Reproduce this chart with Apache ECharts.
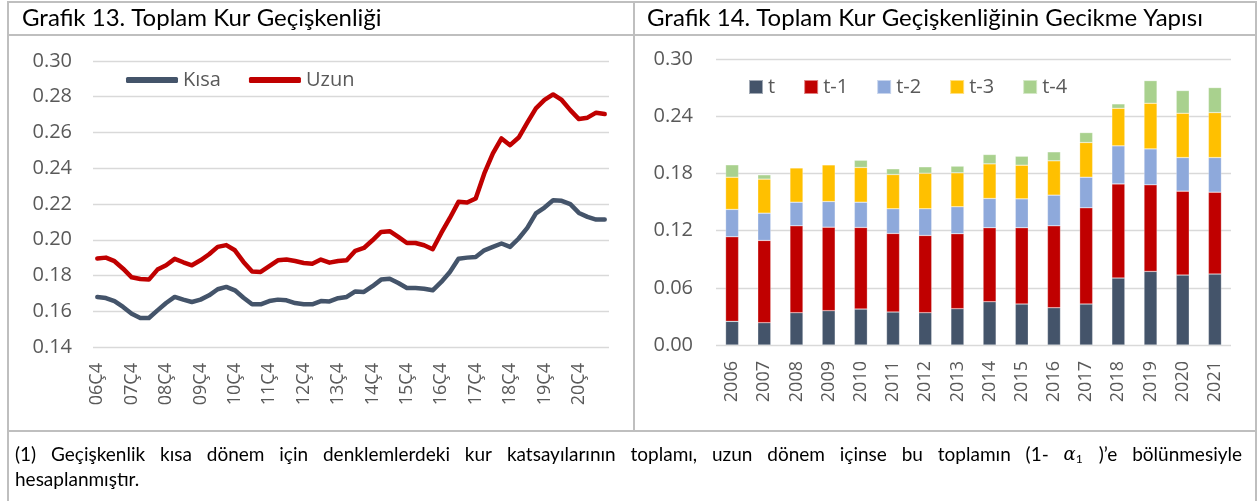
<!DOCTYPE html>
<html>
<head>
<meta charset="utf-8">
<script src="https://cdn.jsdelivr.net/npm/echarts@6/dist/echarts.min.js"></script>
<style>
  html, body { margin: 0; padding: 0; background: #fff; }
  #main { width: 1260px; height: 501px; }
</style>
</head>
<body>
<div id="main"></div>
<script>
// Grafik 13 - ceyreklik kategoriler
var quarters = ['06Ç4','07Ç1','07Ç2','07Ç3','07Ç4','08Ç1','08Ç2','08Ç3','08Ç4','09Ç1','09Ç2','09Ç3',
  '09Ç4','10Ç1','10Ç2','10Ç3','10Ç4','11Ç1','11Ç2','11Ç3','11Ç4','12Ç1','12Ç2','12Ç3',
  '12Ç4','13Ç1','13Ç2','13Ç3','13Ç4','14Ç1','14Ç2','14Ç3','14Ç4','15Ç1','15Ç2','15Ç3',
  '15Ç4','16Ç1','16Ç2','16Ç3','16Ç4','17Ç1','17Ç2','17Ç3','17Ç4','18Ç1','18Ç2','18Ç3',
  '18Ç4','19Ç1','19Ç2','19Ç3','19Ç4','20Ç1','20Ç2','20Ç3','20Ç4','21Ç1','21Ç2','21Ç3'];

var kisa = [0.168,0.1674,0.1657,0.1624,0.1586,0.1562,0.1562,0.1605,0.1646,0.168,0.1665,0.1652,
  0.1665,0.1689,0.1723,0.1736,0.1717,0.1676,0.1639,0.1639,0.1657,0.1665,0.1661,0.1646,
  0.1639,0.1639,0.1657,0.1655,0.1673,0.168,0.1711,0.1708,0.174,0.1777,0.1782,0.1758,
  0.173,0.173,0.1726,0.1717,0.1764,0.182,0.1894,0.19,0.1904,0.1941,0.196,0.1979,
  0.196,0.2007,0.2066,0.2147,0.218,0.2221,0.2218,0.2199,0.215,0.2128,0.2113,0.2113];

var uzun = [0.1895,0.190,0.188,0.1838,0.179,0.178,0.1777,0.1833,0.1857,0.1893,0.1874,0.1857,
  0.1885,0.1919,0.196,0.197,0.1941,0.1876,0.1822,0.182,0.1852,0.1885,0.1889,0.1881,
  0.187,0.1866,0.1889,0.1872,0.1881,0.1885,0.1938,0.1954,0.1997,0.2044,0.2048,0.2016,
  0.1982,0.1982,0.1969,0.1947,0.2038,0.2122,0.2212,0.2208,0.2231,0.2371,0.2483,0.2567,
  0.2529,0.2572,0.2655,0.2735,0.2782,0.2813,0.2782,0.2725,0.2675,0.2683,0.2711,0.2703];

// Grafik 14 - yillik gecikme yapisi
var years = ['2006','2007','2008','2009','2010','2011','2012','2013','2014','2015','2016','2017','2018','2019','2020','2021'];
var lagT  = [0.0248,0.0234,0.0339,0.036,0.0377,0.0346,0.0339,0.0381,0.0454,0.043,0.0391,0.043,0.0702,0.0772,0.0733,0.0744];
var lagT1 = [0.0887,0.0863,0.0911,0.0876,0.0856,0.0824,0.081,0.0786,0.0776,0.08,0.0859,0.1009,0.0988,0.0908,0.0881,0.0859];
var lagT2 = [0.0287,0.0286,0.0248,0.0269,0.0265,0.0259,0.028,0.0283,0.0307,0.0303,0.0322,0.0321,0.0399,0.0377,0.0352,0.0363];
var lagT3 = [0.0338,0.0357,0.036,0.0385,0.0364,0.0359,0.0373,0.0356,0.0363,0.0353,0.036,0.0364,0.0394,0.0479,0.0465,0.0472];
var lagT4 = [0.013,0.0045,0,0,0.0076,0.006,0.0067,0.007,0.0098,0.0094,0.0094,0.0104,0.0046,0.0237,0.0238,0.0262];

var titleLeft = 'Grafik 13. Toplam Kur Geçişkenliği';
var titleRight = 'Grafik 14. Toplam Kur Geçişkenliğinin Gecikme Yapısı';
var noteLine1 = ['(1)','Geçişkenlik','kısa','dönem','için','denklemlerdeki','kur','katsayılarının','toplamı,','uzun','dönem','içinse','bu','toplamın','(1-','α1',')’e','bölünmesiyle'];
var noteLine2 = 'hesaplanmıştır.';

var gray = '#595959';
var gridColor = '#d9d9d9';
var borderColor = '#bfbfbf';
var axisFont = '"Open Sans", sans-serif';
var noteFont = 'Lato, sans-serif';
var noteSize = 19;

var myChart = echarts.init(document.getElementById('main'), null, {renderer: 'canvas'});

// dipnotun ilk satiri iki yana yasli
var ctx = document.createElement('canvas').getContext('2d');
ctx.font = noteSize + 'px ' + noteFont;
var noteX0 = 15, noteX1 = 1242;
var wordW = noteLine1.map(function (w) {
  if (w === 'α1') return ctx.measureText('α').width + 9;
  return ctx.measureText(w).width;
});
var total = wordW.reduce(function (a, b) { return a + b; }, 0);
var gap = (noteX1 - noteX0 - total) / (noteLine1.length - 1);
var noteEls = [];
var cx = noteX0;
noteLine1.forEach(function (w, i) {
  if (w === 'α1') {
    noteEls.push({
      type: 'text', x: cx, y: 455,
      style: {
        text: '{a|α}{s|1}', fill: '#000', verticalAlign: 'middle',
        rich: {
          a: {fontFamily: '"DejaVu Serif", serif', fontStyle: 'italic', fontSize: noteSize - 1, fill: '#000'},
          s: {fontFamily: noteFont, fontSize: 12, fill: '#000', padding: [9, 0, 0, 0]}
        }
      }
    });
  } else {
    noteEls.push({
      type: 'text', x: cx, y: 455,
      style: {text: w, fill: '#000', font: noteSize + 'px ' + noteFont, verticalAlign: 'middle'}
    });
  }
  cx += wordW[i] + gap;
});
noteEls.push({
  type: 'text', x: noteX0, y: 480,
  style: {text: noteLine2, fill: '#000', font: noteSize + 'px ' + noteFont, verticalAlign: 'middle'}
});

function hline(x1, x2, y) {
  return {type: 'line', shape: {x1: x1, y1: y, x2: x2, y2: y}, style: {stroke: borderColor, lineWidth: 2}};
}
function vline(x, y1, y2) {
  return {type: 'line', shape: {x1: x, y1: y1, x2: x, y2: y2}, style: {stroke: borderColor, lineWidth: 2}};
}

var yLabel = {color: gray, fontSize: 20, fontFamily: axisFont,
  formatter: function (v) { return v.toFixed(2); }};
var xLabel = {color: gray, fontSize: 18, fontFamily: axisFont, rotate: 90, margin: 16};

function barSeries(name, data, color) {
  return {
    name: name, type: 'bar', stack: 'lag', xAxisIndex: 1, yAxisIndex: 1,
    data: data, barWidth: 13,
    itemStyle: {color: color, borderColor: 'rgba(255,255,255,0.5)', borderWidth: 0.5}
  };
}

var option = {
  animation: false,
  backgroundColor: '#fff',
  textStyle: {fontFamily: axisFont},
  graphic: [
    hline(8, 1257, 2), hline(8, 1257, 35), hline(8, 1257, 431),
    vline(8, 1, 501), vline(634, 1, 431), vline(1256, 1, 501),
    {type: 'text', x: 22, y: 18, style: {text: titleLeft, fill: '#000', font: '24px Lato, sans-serif', verticalAlign: 'middle'}},
    {type: 'text', x: 647, y: 18, style: {text: titleRight, fill: '#000', font: '24px Lato, sans-serif', verticalAlign: 'middle'}}
  ].concat(noteEls),
  legend: [
    {
      left: 126, top: 70, padding: 0, itemWidth: 52, itemHeight: 6, itemGap: 28, icon: 'roundRect',
      textStyle: {color: gray, fontSize: 20, fontFamily: axisFont},
      data: ['Kısa', 'Uzun']
    },
    {
      left: 748, top: 77, padding: 0, itemWidth: 14, itemHeight: 14, itemGap: 28, icon: 'rect',
      textStyle: {color: gray, fontSize: 20, fontFamily: axisFont},
      data: ['t', 't-1', 't-2', 't-3', 't-4']
    }
  ],
  grid: [
    {left: 93, right: 651, top: 61, bottom: 154},
    {left: 716, right: 29, top: 59, bottom: 156}
  ],
  xAxis: [
    {
      type: 'category', gridIndex: 0, data: quarters, boundaryGap: true,
      axisLine: {show: false}, axisTick: {show: false},
      axisLabel: Object.assign({interval: 3}, xLabel)
    },
    {
      type: 'category', gridIndex: 1, data: years,
      axisLine: {show: false}, axisTick: {show: false},
      axisLabel: Object.assign({interval: 0}, xLabel)
    }
  ],
  yAxis: [
    {
      type: 'value', gridIndex: 0, min: 0.14, max: 0.30, interval: 0.02,
      axisLine: {show: false}, axisTick: {show: false},
      axisLabel: Object.assign({margin: 21}, yLabel),
      splitLine: {lineStyle: {color: gridColor, width: 1.3}}
    },
    {
      type: 'value', gridIndex: 1, min: 0, max: 0.30, interval: 0.06,
      axisLine: {show: false}, axisTick: {show: false},
      axisLabel: Object.assign({margin: 23}, yLabel),
      splitLine: {lineStyle: {color: gridColor, width: 1.3}}
    }
  ],
  series: [
    {
      name: 'Kısa', type: 'line', xAxisIndex: 0, yAxisIndex: 0, data: kisa,
      symbol: 'none', color: '#44546A',
      lineStyle: {width: 4.5, color: '#44546A', cap: 'round', join: 'round'}
    },
    {
      name: 'Uzun', type: 'line', xAxisIndex: 0, yAxisIndex: 0, data: uzun,
      symbol: 'none', color: '#C00000',
      lineStyle: {width: 4.5, color: '#C00000', cap: 'round', join: 'round'}
    },
    barSeries('t', lagT, '#44546A'),
    barSeries('t-1', lagT1, '#C00000'),
    barSeries('t-2', lagT2, '#8EA9DB'),
    barSeries('t-3', lagT3, '#FFC000'),
    barSeries('t-4', lagT4, '#A9D18E')
  ]
};

myChart.setOption(option);
</script>
</body>
</html>
